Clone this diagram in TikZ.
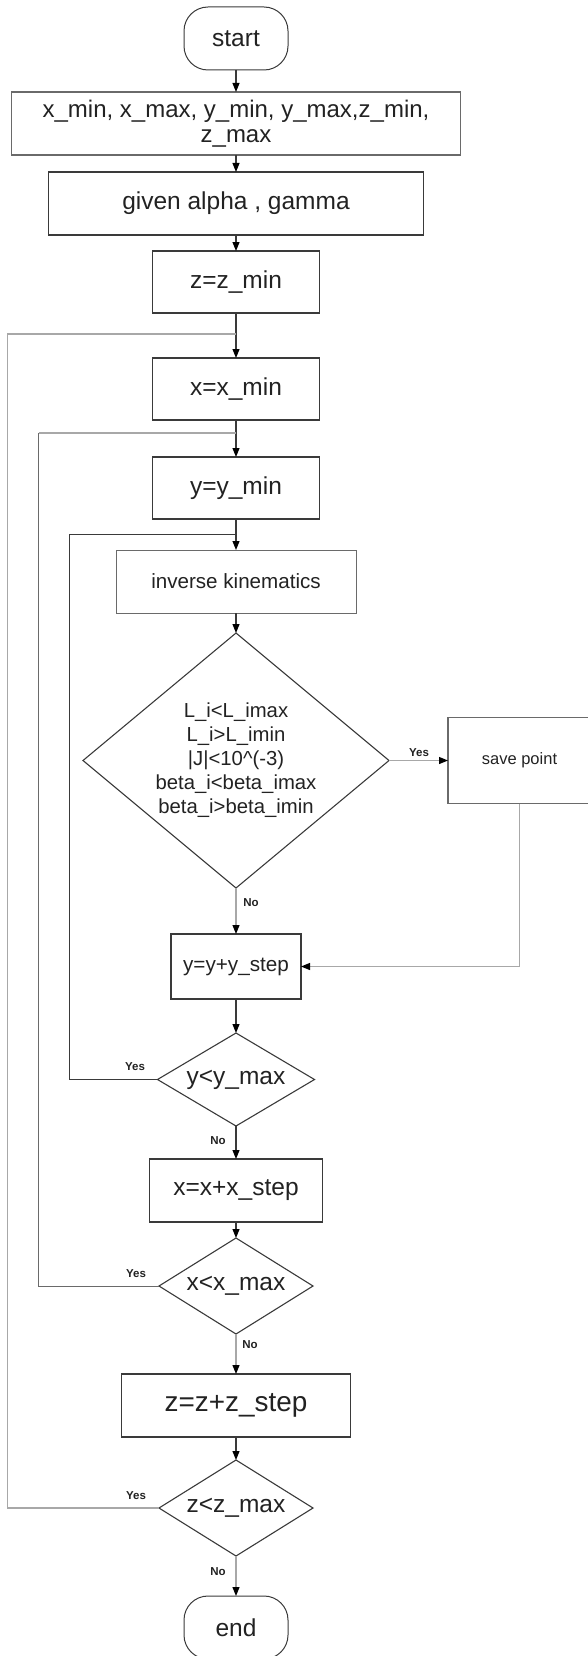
\documentclass[tikz,border=0pt]{standalone}
\usepackage{fontspec}
\setmainfont{Liberation Sans}
\usetikzlibrary{shapes.geometric,arrows.meta}
\definecolor{dk}{HTML}{3A3A3A}
\definecolor{md}{HTML}{6A6A6A}
\definecolor{lt}{HTML}{A8A8A8}
\definecolor{txt}{HTML}{222222}
\begin{document}
\begin{tikzpicture}[x=1pt,y=-1pt,
  every node/.style={text=txt, inner sep=0pt, outer sep=0pt},
  term/.style={draw=dk, line width=1pt, rectangle, rounded corners=24pt, minimum width=104pt, minimum height=63pt, font=\fontsize{24.5}{25}\selectfont},
  box/.style={draw=dk, line width=1.3pt, rectangle, font=\fontsize{24.5}{25}\selectfont},
  thinbox/.style={draw=md, line width=1pt, rectangle},
  dec/.style={draw=dk, line width=1.1pt, diamond, font=\fontsize{24.5}{25}\selectfont},
  lab/.style={font=\bfseries\fontsize{11.5}{12}\selectfont},
  arr/.style={draw=dk, line width=1.1pt, -{Triangle[length=9pt,width=7pt,color=black]}},
  arrg/.style={draw=lt, line width=1.1pt, -{Triangle[length=9pt,width=7pt,color=black]}},
  loopl/.style={draw=lt, line width=1.1pt},
  loopd/.style={draw=md, line width=0.9pt}
]
\useasboundingbox (0,0) rectangle (587,1656);

% nodes
\node[term] (start) at (236,38.5) {start};
\node[box, draw=md, line width=1.2pt, minimum width=449pt, minimum height=63pt, align=center, font=\fontsize{24}{25}\selectfont] (box1) at (236,123.5) {x\_min, x\_max, y\_min, y\_max,z\_min,\\z\_max};
\node[box, minimum width=375pt, minimum height=63pt] (box2) at (236,203.5) {given alpha , gamma};
\node[box, minimum width=167pt, minimum height=62pt] (zmin) at (236,282) {z=z\_min};
\node[box, minimum width=167pt, minimum height=62pt] (xmin) at (236,389) {x=x\_min};
\node[box, minimum width=167pt, minimum height=62pt] (ymin) at (236,488) {y=y\_min};
\node[thinbox, minimum width=240pt, minimum height=63pt, font=\fontsize{20.6}{22}\selectfont] (ik) at (236,581.5) {inverse kinematics};
\node[dec, minimum width=306pt, minimum height=255pt] (d1) at (236,760.5) {};
\node[align=center, font=\fontsize{20.3}{24}\selectfont] (d1t) at (236,760.5) {L\_i<L\_imax\\L\_i>L\_imin\\|J|<10\^{}(-3)\\beta\_i<beta\_imax\\beta\_i>beta\_imin};
\node[thinbox, draw=md, line width=1.2pt, minimum width=143pt, minimum height=86pt, font=\fontsize{16.5}{18}\selectfont] (save) at (519.5,760.5) {save point};
\node[box, minimum width=130pt, minimum height=65pt, font=\fontsize{20.7}{22}\selectfont] (ystep) at (236,966.5) {y=y+y\_step};
\node[dec, minimum width=157pt, minimum height=93pt] (d2) at (236,1079.5) {};
\node (d2t) at (236,1079.5) {\fontsize{24.5}{25}\selectfont y<y\_max};
\node[box, minimum width=173pt, minimum height=63pt] (xstep) at (236,1190.5) {x=x+x\_step};
\node[dec, minimum width=154pt, minimum height=96pt] (d3) at (236,1286) {};
\node (d3t) at (236,1286) {\fontsize{24.5}{25}\selectfont x<x\_max};
\node[box, minimum width=229pt, minimum height=63pt, font=\fontsize{27.9}{29}\selectfont] (zstep) at (236,1405.5) {z=z+z\_step};
\node[dec, minimum width=154pt, minimum height=96pt] (d4) at (236,1508) {};
\node (d4t) at (236,1508) {\fontsize{24.5}{25}\selectfont z<z\_max};
\node[term] (end) at (236,1627.5) {end};

% labels
\node[lab] (y1) at (419,753) {Yes};
\node[lab] (n1) at (251,903) {No};
\node[lab] (y2) at (135,1067) {Yes};
\node[lab] (n2) at (218,1141) {No};
\node[lab] (y3) at (136,1274) {Yes};
\node[lab] (n3) at (250,1345) {No};
\node[lab] (y4) at (136,1496) {Yes};
\node[lab] (n4) at (218,1572) {No};

% main flow
\draw[arr] (start.south) -- (box1.north);
\draw[arr] (box1.south) -- (box2.north);
\draw[arr] (box2.south) -- (zmin.north);
\draw[arr] (zmin.south) -- (xmin.north);
\draw[arr] (xmin.south) -- (ymin.north);
\draw[arr] (ymin.south) -- (ik.north);
\draw[arr] (ik.south) -- (d1.north);
\draw[arrg] (d1.east) -- (save.west);
\draw[arrg] (d1.south) -- (ystep.north);
\draw[arrg] (save.south) |- (ystep.east);
\draw[arr] (ystep.south) -- (d2.north);
\draw[arr] (d2.south) -- (xstep.north);
\draw[arr] (xstep.south) -- (d3.north);
\draw[arrg] (d3.south) -- (zstep.north);
\draw[arr] (zstep.south) -- (d4.north);
\draw[arrg] (d4.south) -- (end.north);

% loops
\coordinate (yj) at (236,534);
\coordinate (yc) at (69,534);
\coordinate (xj) at (236,433);
\coordinate (xc) at (38.5,433);
\coordinate (zj) at (236,334);
\coordinate (zc) at (7.5,334);
\draw[loopd, draw=dk] (d2.west) -| (yc) -- (yj);
\draw[loopd] (d3.west) -| (xc);
\draw[loopl] (xc) -- (xj);
\draw[loopl] (d4.west) -| (zc) -- (zj);
\end{tikzpicture}
\end{document}
